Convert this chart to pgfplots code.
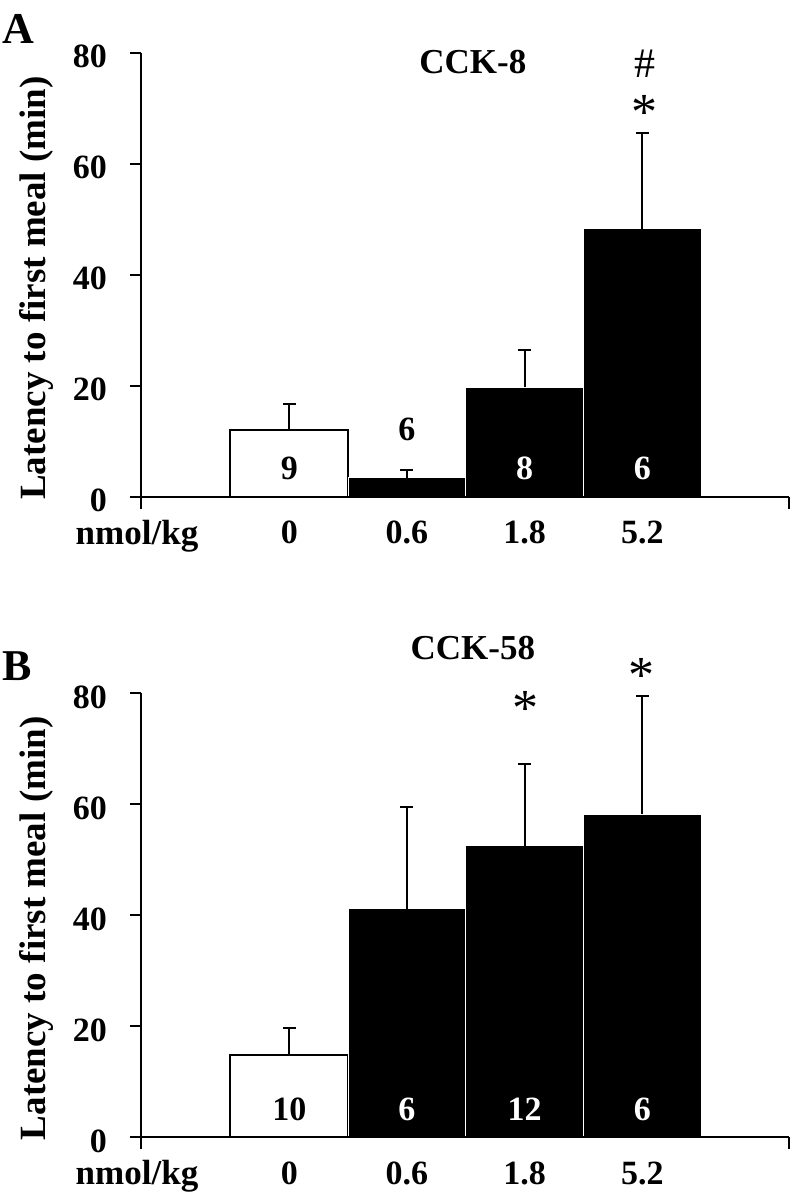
\documentclass[border=0pt]{standalone}
\usepackage{fontspec}
\setmainfont{Liberation Serif}
\usepackage{pgfplots}
\pgfplotsset{compat=1.18}

\newcommand{\fs}[1]{\fontsize{#1}{#1}\selectfont}

\pgfplotsset{
  panel/.style={
    width=324pt, height=222pt, scale only axis,
    anchor=south west,
    axis lines=left, axis line style={-, line width=1pt},
    xmin=-0.26, xmax=5.247, ymin=0, ymax=80,
    ytick={0,20,40,60,80},
    tick align=outside, major tick length=5.5pt,
    tick style={line width=1pt, black},
    xtick={1,2,3,4},
    xticklabels={0,0.6,1.8,5.2},
    xtick style={draw=none},
    /pgf/number format/assume math mode=true,
    yticklabel style={font=\bfseries\fs{17}, xshift=-8pt, yshift=-2pt},
    xticklabel style={font=\bfseries\fs{17}, anchor=base, yshift=-18pt},
    ylabel={Latency to first meal (min)},
    ylabel style={font=\bfseries\fs{18.5}, at={(axis description cs:-0.162,0.47)}, anchor=center},
    clip=false, axis on top,
    ybar, bar width=1, bar shift=0pt,
  },
  errs/.style={
    error bars/.cd,
    y dir=plus, y explicit,
    error mark=-,
    error mark options={rotate=90, line width=1pt, mark size=3.25pt, black, solid},
    error bar style={line width=1pt, black, solid},
  },
  whitebar/.style={fill=white, draw=black, line width=1pt},
  blackbar/.style={fill=black, draw=white, line width=0.5pt},
}
\tikzset{dose/.style={font=\bfseries\fs{17.5}, anchor=base, yshift=-23.7pt}}

\begin{document}
\begin{tikzpicture}

% A: CCK-8
\begin{axis}[panel, at={(70.5pt,-248.35pt)}]
\addplot[whitebar, errs] coordinates {(1,12.0) +- (0,4.7)};
\addplot[blackbar, errs] coordinates {(2,3.4) +- (0,1.4) (3,19.7) +- (0,6.8) (4,48.3) +- (0,17.3)};
\node[font=\bfseries\fs{17.5}, anchor=base] at (axis cs:2.56,76.2) {CCK-8};
\node[font=\fs{21}, anchor=base] at (axis cs:4.02,75.5) {\#};
\node[font=\fs{26}, anchor=base] at (axis cs:4.02,66.2) {*};
\node[font=\bfseries\fs{17}, anchor=base] at (axis cs:2,10.2) {6};
\node[font=\bfseries\fs{17}, anchor=base] at (axis cs:1,3.1) {9};
\node[font=\bfseries\fs{17}, anchor=base, text=white] at (axis cs:3,3.1) {8};
\node[font=\bfseries\fs{17}, anchor=base, text=white] at (axis cs:4,3.1) {6};
\node[dose] at (axis cs:-0.294,0) {nmol/kg};
\draw[line width=1pt] (axis cs:-0.26,0) -- ++(0pt,-6pt);
\draw[line width=1pt] (axis cs:5.247,0) -- ++(0pt,-6pt);
\end{axis}

% B: CCK-58
\begin{axis}[panel, at={(70.5pt,-568.5pt)}]
\addplot[whitebar, errs] coordinates {(1,14.8) +- (0,4.9)};
\addplot[blackbar, errs] coordinates {(2,41.1) +- (0,18.4) (3,52.5) +- (0,14.7) (4,58.2) +- (0,21.3)};
\node[font=\bfseries\fs{17.5}, anchor=base] at (axis cs:2.56,86.1) {CCK-58};
\node[font=\fs{26}, anchor=base] at (axis cs:3.01,74.2) {*};
\node[font=\fs{26}, anchor=base] at (axis cs:3.99,80.1) {*};
\node[font=\bfseries\fs{17}, anchor=base] at (axis cs:1,2.9) {10};
\node[font=\bfseries\fs{17}, anchor=base, text=white] at (axis cs:2,2.9) {6};
\node[font=\bfseries\fs{17}, anchor=base, text=white] at (axis cs:3,2.9) {12};
\node[font=\bfseries\fs{17}, anchor=base, text=white] at (axis cs:4,2.9) {6};
\node[dose] at (axis cs:-0.294,0) {nmol/kg};
\draw[line width=1pt] (axis cs:-0.26,0) -- ++(0pt,-6pt);
\draw[line width=1pt] (axis cs:5.247,0) -- ++(0pt,-6pt);
\end{axis}

\node[font=\bfseries\fs{22}] at (9pt,-14.5pt) {A};
\node[font=\bfseries\fs{22}] at (8.5pt,-333pt) {B};

\pgfresetboundingbox
\path (0,0) rectangle (396pt,-598pt);
\end{tikzpicture}
\end{document}
